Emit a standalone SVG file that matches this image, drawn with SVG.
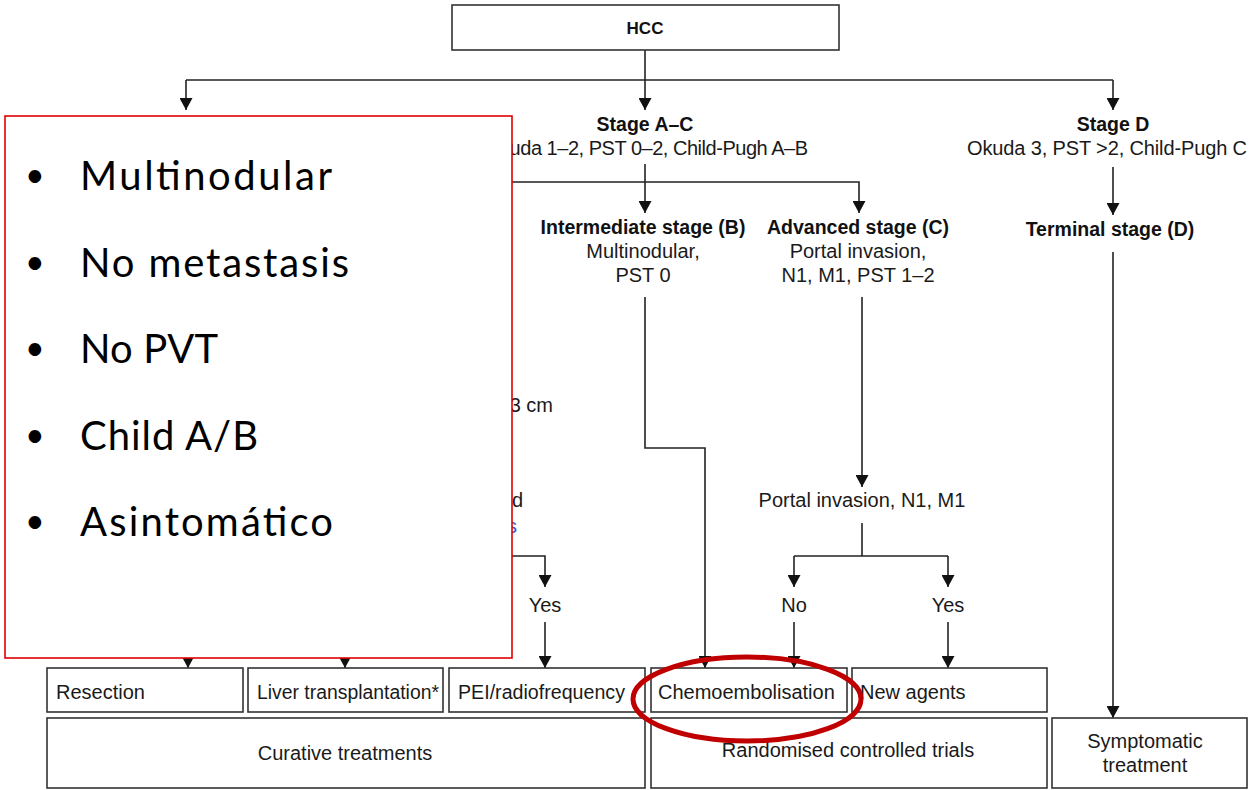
<svg xmlns="http://www.w3.org/2000/svg" width="1249" height="790" viewBox="0 0 1249 790">
<style>
.bx{fill:#fff;stroke:#333;stroke-width:1.6}
.t{font-family:"Liberation Sans",Arial,sans-serif;font-size:20px;fill:#1a1a1a}
.b{font-family:"Liberation Sans",Arial,sans-serif;font-size:19.5px;font-weight:bold;fill:#111}
.r{font-family:"Liberation Sans",Arial,sans-serif;font-size:20px;fill:#1a1a1a}
.c{stroke:#222;stroke-width:1.6;fill:none}
.ca{stroke:#222;stroke-width:1.6;fill:none;marker-end:url(#ah)}
.bl{font-family:Lato,"Open Sans",sans-serif;font-size:40px;fill:#000}
.bu{font-family:Lato,"Open Sans",sans-serif;font-size:34px;fill:#000}
</style>
<defs>
<marker id="ah" markerUnits="userSpaceOnUse" markerWidth="13" markerHeight="13" refX="12" refY="6.5" orient="auto">
<path d="M0,0 L12,6.5 L0,13 z" fill="#111"/>
</marker>
</defs>
<rect width="1249" height="790" fill="#fff"/>
<g id="connectors">
<line class="ca" x1="645" y1="50" x2="645" y2="110"/>
<line class="c" x1="186" y1="80" x2="1113" y2="80"/>
<line class="ca" x1="186" y1="80" x2="186" y2="110"/>
<line class="ca" x1="1113" y1="80" x2="1113" y2="110"/>
<line class="ca" x1="645" y1="164" x2="645" y2="213"/>
<polyline class="ca" points="300,182 859,182 859,213"/>
<line class="ca" x1="1113" y1="167" x2="1113" y2="215"/>
<polyline class="ca" points="645,297 645,448 705,448 705,668"/>
<line class="ca" x1="862" y1="297" x2="862" y2="487"/>
<line class="c" x1="862" y1="523" x2="862" y2="556"/>
<line class="c" x1="794" y1="556" x2="948" y2="556"/>
<line class="ca" x1="794" y1="556" x2="794" y2="587"/>
<line class="ca" x1="948" y1="556" x2="948" y2="587"/>
<line class="ca" x1="794" y1="622" x2="794" y2="668"/>
<line class="ca" x1="948" y1="622" x2="948" y2="668"/>
<polyline class="ca" points="400,556 545,556 545,587"/>
<line class="ca" x1="545" y1="622" x2="545" y2="668"/>
<line class="ca" x1="188" y1="640" x2="188" y2="668"/>
<line class="ca" x1="345" y1="640" x2="345" y2="668"/>
<line class="ca" x1="1113" y1="252" x2="1113" y2="718"/>
</g>
<g id="hcc">
<rect class="bx" x="452" y="5" width="387" height="45"/>
<text class="b" x="645" y="34" text-anchor="middle" style="font-size:17px">HCC</text>
</g>
<g id="stage-ac">
<text class="b" x="645" y="131" text-anchor="middle">Stage A–C</text>
<text class="t" x="808" y="155" text-anchor="end" textLength="323">Okuda 1–2, PST 0–2, Child-Pugh A–B</text>
</g>
<g id="stage-d">
<text class="b" x="1113" y="131" text-anchor="middle">Stage D</text>
<text class="t" x="1107" y="155" text-anchor="middle" textLength="280">Okuda 3, PST &gt;2, Child-Pugh C</text>
</g>
<g id="intermediate">
<text class="b" x="643" y="234" text-anchor="middle">Intermediate stage (B)</text>
<text class="t" x="643" y="258" text-anchor="middle">Multinodular,</text>
<text class="t" x="643" y="282" text-anchor="middle">PST 0</text>
</g>
<g id="advanced">
<text class="b" x="858" y="234" text-anchor="middle">Advanced stage (C)</text>
<text class="t" x="858" y="258" text-anchor="middle">Portal invasion,</text>
<text class="t" x="858" y="282" text-anchor="middle">N1, M1, PST 1–2</text>
</g>
<g id="terminal">
<text class="b" x="1110" y="236" text-anchor="middle">Terminal stage (D)</text>
</g>
<g id="fragments">
<text class="t" x="553" y="412" text-anchor="end">3 cm</text>
<text class="t" x="523" y="507" text-anchor="end">d</text>
<text class="t" x="517" y="533" text-anchor="end" style="fill:#2a5bd7">s</text>
</g>
<g id="portal">
<text class="t" x="862" y="507" text-anchor="middle">Portal invasion, N1, M1</text>
</g>
<g id="labels">
<text class="t" x="545" y="612" text-anchor="middle">Yes</text>
<text class="t" x="794" y="612" text-anchor="middle">No</text>
<text class="t" x="948" y="612" text-anchor="middle">Yes</text>
</g>
<g id="resection"><rect class="bx" x="47" y="668" width="196" height="44"/><text class="r" x="56" y="699">Resection</text></g>
<g id="liver"><rect class="bx" x="248" y="668" width="195" height="44"/><text class="r" x="257" y="699" textLength="182" lengthAdjust="spacingAndGlyphs">Liver transplantation*</text></g>
<g id="pei"><rect class="bx" x="449" y="668" width="196" height="44"/><text class="r" x="458" y="699" textLength="167" lengthAdjust="spacingAndGlyphs">PEI/radiofrequency</text></g>
<g id="chemo"><rect class="bx" x="651" y="668" width="196" height="44"/><text class="r" x="658" y="699">Chemoembolisation</text></g>
<g id="newagents"><rect class="bx" x="852" y="668" width="195" height="44"/><text class="r" x="860" y="699">New agents</text></g>
<g id="curative"><rect class="bx" x="47" y="718" width="598" height="70"/><text class="r" x="345" y="760" text-anchor="middle">Curative treatments</text></g>
<g id="rct"><rect class="bx" x="651" y="718" width="396" height="70"/><text class="r" x="848" y="757" text-anchor="middle">Randomised controlled trials</text></g>
<g id="symptomatic"><rect class="bx" x="1052" y="718" width="195" height="70"/><text class="r" x="1145" y="748" text-anchor="middle">Symptomatic</text><text class="r" x="1145" y="772" text-anchor="middle">treatment</text></g>
<g id="callout">
<rect x="5" y="116" width="507" height="542" fill="#fff" stroke="#e00000" stroke-width="1.6"/>
<text class="bu" x="25" y="187">•</text><text class="bl" x="80" y="190" textLength="252">Multinodular</text>
<text class="bu" x="25" y="274">•</text><text class="bl" x="80" y="277" textLength="269">No metastasis</text>
<text class="bu" x="25" y="360">•</text><text class="bl" x="80" y="363" textLength="138">No PVT</text>
<text class="bu" x="25" y="447">•</text><text class="bl" x="80" y="450" textLength="178">Child A/B</text>
<text class="bu" x="25" y="533">•</text><text class="bl" x="80" y="536" textLength="253">Asintomático</text>
</g>
<g id="highlight">
<ellipse cx="747" cy="699" rx="114" ry="42" fill="none" stroke="#c00000" stroke-width="5"/>
</g>
</svg>
